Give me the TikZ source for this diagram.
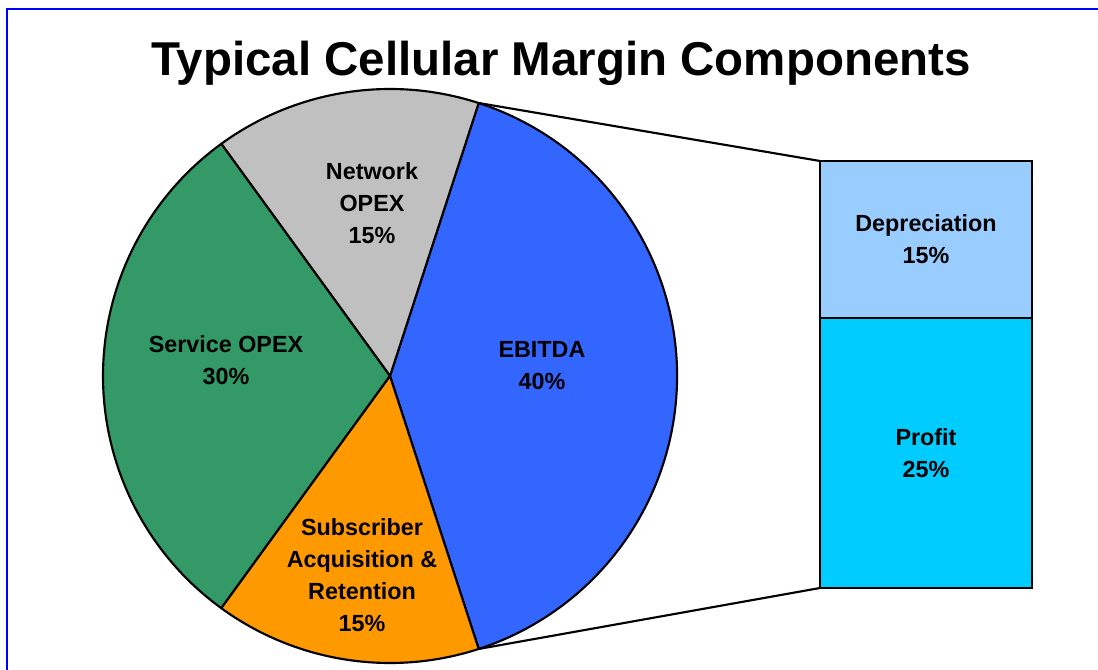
\documentclass[tikz,border=0pt]{standalone}
\usepackage{fontspec}
\setmainfont{Liberation Sans}
\usetikzlibrary{positioning}
\definecolor{ebitda}{HTML}{3366FF}
\definecolor{netgray}{HTML}{C0C0C0}
\definecolor{servgreen}{HTML}{339966}
\definecolor{subsorange}{HTML}{FF9900}
\definecolor{depblue}{HTML}{99CCFF}
\definecolor{profcyan}{HTML}{00CCFF}
\definecolor{framebl}{HTML}{0000FF}

\begin{document}
\begin{tikzpicture}[x=0.75pt,y=0.75pt,
  slice/.style={draw=black,line width=1.6pt,line join=round},
  lbl/.style={align=center,inner sep=0pt,font=\bfseries\fontsize{17.5}{24}\selectfont},
  bar/.style={draw=black,line width=1.6pt,minimum width=159pt,outer sep=0pt,
    align=center,font=\bfseries\fontsize{17.5}{24}\selectfont},
  link/.style={black,line width=1.6pt}]
\useasboundingbox (0,0) rectangle (1098,670);
\draw [framebl,line width=1.5pt] (7,0) -- (7,661) -- (1098,661);
\node [font=\bfseries\fontsize{35.6}{42}\selectfont] (title) at (561,607) {Typical Cellular Margin Components};
% pie
\begin{scope}[shift={(390,294)}]
\coordinate (ebtop) at (72:287);
\coordinate (ebbot) at (-72:287);
\filldraw [slice,fill=ebitda] (0,0) -- (72:287) arc [start angle=72,end angle=-72,radius=215.25pt] -- cycle;
\filldraw [slice,fill=netgray] (0,0) -- (126:287) arc [start angle=126,end angle=72,radius=215.25pt] -- cycle;
\filldraw [slice,fill=servgreen] (0,0) -- (234:287) arc [start angle=234,end angle=126,radius=215.25pt] -- cycle;
\filldraw [slice,fill=subsorange] (0,0) -- (288:287) arc [start angle=288,end angle=234,radius=215.25pt] -- cycle;
\end{scope}
\node [lbl] (net) at (372,467) {Network\\OPEX\\15\%};
\node [lbl] (serv) at (226,310) {Service OPEX\\30\%};
\node [lbl] (ebit) at (542,304) {EBITDA\\40\%};
\node [lbl] (subs) at (362,95) {Subscriber\\Acquisition \&\\Retention\\15\%};
% bar
\node [bar,fill=depblue,minimum height=117.75pt] (dep) at (926,430.5) {Depreciation\\15\%};
\node [bar,fill=profcyan,minimum height=202.5pt,below=0pt of dep] (prof) {Profit\\25\%};
\draw [link] (ebtop) -- (dep.north west);
\draw [link] (ebbot) -- (prof.south west);
\end{tikzpicture}
\end{document}
